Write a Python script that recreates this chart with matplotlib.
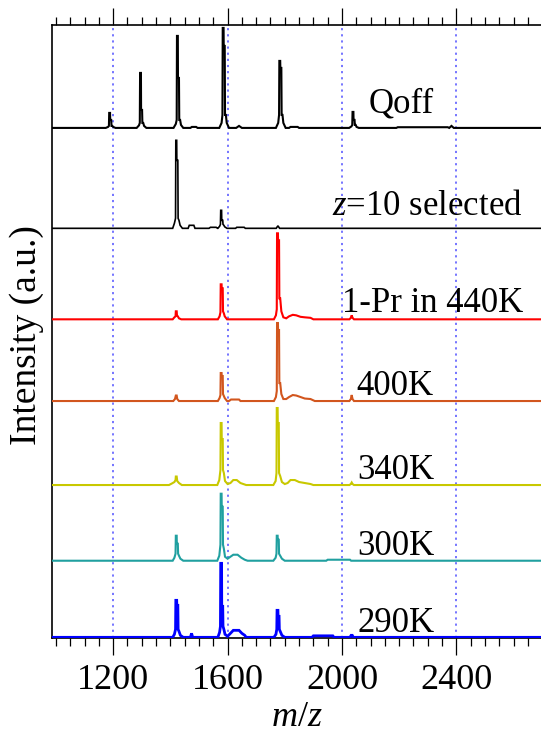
import matplotlib
matplotlib.use("Agg")
import matplotlib.pyplot as plt
from matplotlib.ticker import MultipleLocator

plt.rcParams['font.family'] = ['Liberation Serif', 'DejaVu Serif']
plt.rcParams['mathtext.fontset'] = 'custom'
plt.rcParams['mathtext.rm'] = 'Liberation Serif'
plt.rcParams['mathtext.it'] = 'Liberation Serif:italic'

# ---------------- data (m/z, intensity in a.u.) ----------------
qoff_mz = [988, 1174, 1182, 1185, 1186, 1189, 1189.5, 1193, 1194, 1197, 1200, 1208,
           1282, 1290, 1293, 1294, 1297, 1297.5, 1301, 1302, 1305, 1308, 1316,
           1411, 1419, 1422, 1423, 1426, 1426.5, 1430, 1431, 1434, 1437, 1445,
           1470, 1475, 1490, 1495,
           1571, 1579, 1582, 1583, 1586, 1586.5, 1590, 1591, 1594, 1597, 1605,
           1630, 1640, 1650,
           1769, 1777, 1780, 1781, 1784, 1784.5, 1788, 1789, 1792, 1795, 1803,
           1815, 1820, 1845, 1850,
           2025, 2033, 2036, 2037, 2040, 2040.5, 2044, 2045, 2048, 2051, 2059,
           2190, 2195, 2370, 2375, 2383, 2391, 2700]
qoff_int = [0, 0, 1, 2, 15, 15, 8, 8, 2, 2, 1, 0,
            0, 2.5, 5, 55, 55, 18, 18, 5, 5, 2, 0,
            0, 4, 8, 92, 92, 50, 50, 8, 8, 3, 0,
            0, 1, 1, 0,
            0, 5, 13, 100, 100, 82, 82, 13, 13, 5, 0,
            0, 2, 0,
            0, 5, 13, 67, 67, 60, 60, 13, 13, 5, 0,
            0, 1, 1, 0,
            0, 1.5, 3, 16, 16, 8, 8, 3, 3, 1, 0,
            0, 0.7, 0.7, 0, 2, 0, 0]

z10_mz = [988, 1408, 1414, 1418, 1419, 1422, 1422.5, 1426, 1427, 1430, 1434, 1442,
          1462, 1466, 1482, 1486,
          1535, 1540, 1560, 1565,
          1566, 1572, 1575, 1576, 1579, 1579.5, 1583, 1584, 1587, 1590, 1598,
          1628, 1632, 1658, 1662,
          1770, 1776, 1782, 2700]
z10_int = [0, 0, 5, 10, 88, 88, 68, 68, 10, 8, 3, 0,
           0, 3, 3, 0,
           0, 1, 1, 0,
           0, 2, 4, 18, 18, 8, 8, 4, 3, 1.5, 0,
           0, 1, 1, 0,
           0, 2.5, 0, 0]

r440_mz = [988, 1408, 1414, 1418, 1419, 1422, 1423, 1426, 1430, 1438,
           1566, 1572, 1575, 1576, 1579, 1579.5, 1583, 1584, 1587, 1590, 1598,
           1762, 1769, 1772, 1773, 1776, 1776.5, 1780, 1781, 1784, 1788, 1795,
           1805, 1815, 1828, 1840, 1855, 1870, 1890, 1900,
           2026, 2031, 2034, 2037, 2042, 2700]
r440_int = [0, 0, 2, 3, 8, 8, 4, 3, 1, 0,
            0, 3, 7, 35, 35, 31, 31, 8, 6, 3, 0,
            0, 4, 10, 86, 86, 79, 79, 21, 21, 8, 2,
            1, 3, 4.5, 4, 2.5, 2, 1.5, 0,
            0, 1.5, 4, 1.5, 0, 0]

k400_mz = [988, 1410, 1416, 1419, 1422, 1424, 1430,
           1566, 1572, 1575, 1576, 1579, 1579.5, 1583, 1584, 1587, 1590, 1598,
           1605, 1612, 1640, 1645,
           1762, 1769, 1772, 1773, 1776, 1776.5, 1780, 1781, 1784, 1788, 1795,
           1805, 1815, 1828, 1840, 1855, 1870, 1890, 1905,
           2026, 2031, 2034, 2037, 2042, 2700]
k400_int = [0, 0, 2, 5.5, 5.5, 2, 0,
            0, 3, 6, 28, 28, 25, 25, 7, 5, 3, 0,
            0, 1.5, 1.5, 0,
            0, 4, 10, 78, 78, 71, 71, 18, 18, 7, 2,
            2, 4, 6, 5.5, 4, 2.5, 2, 0,
            0, 2, 6, 2, 0, 0]

k340_mz = [988, 1395, 1405, 1414, 1418, 1419, 1422, 1424, 1430, 1440,
           1564, 1571, 1575, 1576, 1579, 1579.5, 1583, 1584, 1587, 1591, 1600,
           1610, 1620, 1632, 1645, 1655, 1665,
           1760, 1768, 1771, 1772, 1775, 1775.5, 1779, 1780, 1784, 1790, 1800,
           1810, 1820, 1835, 1850, 1870, 1890, 1900,
           2026, 2031, 2034, 2037, 2042, 2700]
k340_int = [0, 0, 1.5, 3, 5, 8.5, 8.5, 4, 2, 0,
            0, 5, 15, 62, 62, 46, 46, 15, 12, 4, 1,
            2, 5, 5, 2, 1, 0,
            0, 4, 12, 77, 77, 62, 62, 12, 9, 3, 1,
            2, 5, 5, 3, 2, 1, 0,
            0, 1, 2.5, 1, 0, 0]

k300_mz = [988, 1408, 1414, 1418, 1419, 1422, 1422.5, 1426, 1427, 1430, 1435, 1445,
           1564, 1571, 1575, 1576, 1579, 1579.5, 1583, 1584, 1587, 1591, 1600,
           1610, 1620, 1635, 1648, 1660, 1670,
           1760, 1768, 1771, 1772, 1775, 1775.5, 1779, 1780, 1784, 1790, 1800,
           1945, 1950, 2028, 2032, 2700]
k300_int = [0, 0, 3, 7, 25, 25, 17, 17, 7, 5, 2, 0,
            0, 5, 16, 67, 67, 54, 54, 16, 12, 4, 2,
            4, 6, 6, 3, 1, 0,
            0, 3, 7, 25, 25, 21, 21, 7, 5, 2, 0,
            0, 1, 1, 0, 0]

k290_mz = [988, 1408, 1414, 1418, 1419, 1422, 1422.5, 1426, 1427, 1430, 1435, 1445,
           1470, 1474, 1478,
           1566, 1572, 1575, 1576, 1579, 1579.5, 1583, 1584, 1587, 1591, 1600,
           1610, 1620, 1640, 1650, 1660, 1665,
           1762, 1769, 1772, 1773, 1776, 1776.5, 1780, 1781, 1784, 1790, 1800,
           1895, 1900, 1968, 1972,
           2028, 2032, 2036, 2040, 2700]
k290_int = [0, 0, 3, 8, 37, 37, 32, 32, 8, 6, 2, 0,
            0, 4, 0,
            0, 5, 11, 74, 74, 31, 31, 11, 8, 3, 1,
            4, 7, 7, 4, 2, 0,
            0, 3, 8, 27, 27, 21, 21, 8, 6, 2, 0,
            0, 1.5, 1.5, 0,
            0, 2, 2, 0, 0]

labels = ["Qoff", "$z$=10 selected", "1-Pr in 440K", "400K", "340K", "300K", "290K"]
offsets = [510, 409.6, 318.6, 236.9, 152.9, 77.2, 0.6]
label_x = [2092, 1964, 1999, 2051, 2055, 2055, 2055]
label_y = [525, 423, 326, 243, 158.6, 83, 6.2]
colors = ["#000000", "#000000", "#ff0000", "#d2561e", "#c8c800", "#20a0a0", "#0000ff"]
widths = [1.5, 1.2, 1.5, 1.5, 1.5, 1.5, 2.0]

series = [(qoff_mz, qoff_int), (z10_mz, z10_int), (r440_mz, r440_int),
          (k400_mz, k400_int), (k340_mz, k340_int), (k300_mz, k300_int),
          (k290_mz, k290_int)]

grid_x = [1200, 1600, 2000, 2400]

# ---------------- figure ----------------
fig = plt.figure(figsize=(5.41, 7.38), dpi=100)
ax = fig.add_axes([0.0956, 0.1356, 0.9044, 0.8305])

for (mz, inten), off, c, lw in zip(series, offsets, colors, widths):
    ax.plot(mz, [v + off for v in inten], color=c, lw=lw, solid_joinstyle='miter', zorder=3)

for gx in grid_x:
    ax.axvline(gx, color="#6a6aff", lw=1.3, linestyle=(0, (1.2, 2.2)), zorder=2)

for t, x, y in zip(labels, label_x, label_y):
    ax.text(x, y, t, fontsize=25, ha='left', va='baseline', color='black', zorder=4)

ax.set_xlim(985, 2696)
ax.set_ylim(0, 612.9)

ax.xaxis.set_major_locator(MultipleLocator(400))
ax.xaxis.set_minor_locator(MultipleLocator(50))
ax.tick_params(axis='x', which='major', direction='out', length=12, width=0.9,
               top=True, bottom=True, labelsize=26, pad=7)
ax.tick_params(axis='x', which='minor', direction='out', length=5.5, width=0.9,
               top=True, bottom=True)
ax.set_yticks([])
ax.spines['right'].set_visible(False)
for s in ['left', 'top', 'bottom']:
    ax.spines[s].set_linewidth(1.2)

ax.set_xlabel("$m$/$z$", fontsize=26, labelpad=3)
fig.text(27 / 541, 1 - 445 / 738, "Intensity (a.u.)", fontsize=27, rotation=90,
         ha='center', va='bottom')

fig.savefig("out.png", dpi=100)
